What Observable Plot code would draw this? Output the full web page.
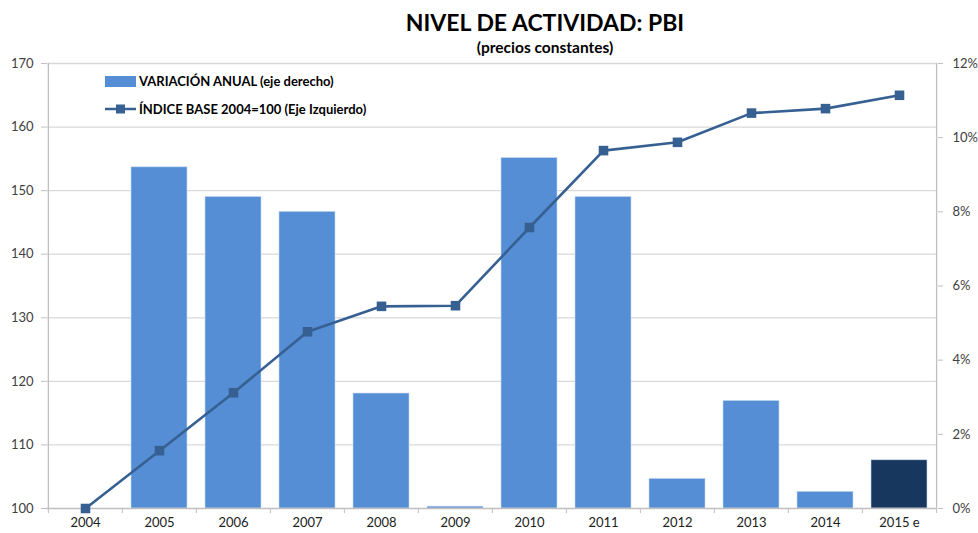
<!DOCTYPE html>
<html>
<head>
<meta charset="utf-8">
<script src="https://cdn.jsdelivr.net/npm/d3@7"></script>
<script src="https://cdn.jsdelivr.net/npm/@observablehq/plot@0.6"></script>
<style>
  html, body { margin: 0; padding: 0; background: #fff; }
  #wrap { position: relative; width: 978px; height: 533px; font-family: Lato, "Open Sans", sans-serif; }
  #title { position: absolute; left: 0; top: 8px; width: 978px; padding-left: 112px; box-sizing: border-box; text-align: center; font-weight: bold; font-size: 23px; color: #000; }
  #subtitle { position: absolute; left: 0; top: 38px; width: 978px; padding-left: 112px; box-sizing: border-box; text-align: center; font-weight: bold; font-size: 15.5px; color: #000; }
  #chart { position: absolute; left: 0; top: 0; }
  .leg { position: absolute; font-size: 13px; font-weight: bold; color: #000; white-space: nowrap; }
</style>
</head>
<body>
<div id="wrap">
  <div id="chart"></div>
  <div id="title">NIVEL DE ACTIVIDAD: PBI</div>
  <div id="subtitle">(precios constantes)</div>
  <svg style="position:absolute;left:0;top:0" width="978" height="533">
    <rect x="105" y="76" width="31" height="11" fill="#558ED5"></rect>
    <line x1="105" y1="109" x2="136" y2="109" stroke="#376092" stroke-width="2.5"></line>
    <rect x="116" y="104.5" width="9" height="9" fill="#376092"></rect>
  </svg>
  <div class="leg" style="left:139px;top:73px">VARIACIÓN ANUAL (eje derecho)</div>
  <div class="leg" style="left:139px;top:101px">ÍNDICE BASE 2004=100 (Eje Izquierdo)</div>
</div>
<script>
const years = ["2004","2005","2006","2007","2008","2009","2010","2011","2012","2013","2014","2015 e"];
const indexValues = [100, 109.1, 118.2, 127.8, 131.8, 131.9, 144.2, 156.3, 157.6, 162.2, 162.9, 165.0];
const growthPct = [null, 9.2, 8.4, 8.0, 3.1, 0.05, 9.45, 8.4, 0.8, 2.9, 0.45, 1.3];
const leftTicks = [100, 110, 120, 130, 140, 150, 160, 170];
const rightTicksPct = [0, 2, 4, 6, 8, 10, 12];

const L0 = 100, L1 = 170, R1 = 12;
const toLeft = p => L0 + p * (L1 - L0) / R1;

const barData = years.map((y, i) => ({year: y, v: growthPct[i], est: y.endsWith("e")}))
  .filter(d => d.v != null);
const lineData = years.map((y, i) => ({year: y, v: indexValues[i]}));

const bw = (978 - 46 - 41) / years.length;
const pad = 0.245;

const chart = Plot.plot({
  width: 978,
  height: 533,
  marginLeft: 46,
  marginRight: 41,
  marginTop: 63,
  marginBottom: 25,
  style: {fontFamily: "Lato, 'Open Sans', sans-serif", fontSize: "13px", color: "#404040", background: "transparent"},
  x: {type: "band", domain: years, paddingInner: pad, paddingOuter: pad / 2, align: 0.5, axis: null, label: null},
  y: {domain: [L0, L1], axis: null, label: null},
  marks: [
    Plot.ruleY(leftTicks.filter(t => t > L0), {stroke: "#d9d9d9", strokeWidth: 1.3}),
    Plot.barY(barData, {x: "year", y1: L0, y2: d => toLeft(d.v), fill: d => d.est ? "#17375E" : "#558ED5", stroke: "#c6d9f1", strokeWidth: 0.6}),
    Plot.ruleY([L0], {stroke: "#bfbfbf", strokeWidth: 1.3}),
    Plot.ruleX([years[0]], {dx: -bw / 2, y1: L0, y2: L1, stroke: "#bfbfbf", strokeWidth: 1.3}),
    Plot.ruleX([years[years.length - 1]], {dx: bw / 2, y1: L0, y2: L1, stroke: "#bfbfbf", strokeWidth: 1.3}),
    Plot.ruleX(years, {dx: -bw / 2, y1: L0, y2: L0 - 0.8, stroke: "#bfbfbf"}),
    Plot.ruleX([years[years.length - 1]], {dx: bw / 2, y1: L0, y2: L0 - 0.8, stroke: "#bfbfbf"}),
    Plot.axisY(leftTicks, {anchor: "left", label: null, tickSize: 5, tickPadding: 8, stroke: "#bfbfbf", fill: "#404040", fontSize: 13}),
    Plot.axisY(rightTicksPct.map(toLeft), {anchor: "right", label: null, tickSize: 5, tickPadding: 10, stroke: "#bfbfbf", fill: "#404040", fontSize: 13,
      tickFormat: d => Math.round((d - L0) * R1 / (L1 - L0)) + "%"}),
    Plot.axisX(years, {anchor: "bottom", label: null, tickSize: 0, tickPadding: 9, fill: "#222", fontSize: 13}),
    Plot.line(lineData, {x: "year", y: "v", stroke: "#376092", strokeWidth: 2.6}),
    Plot.dot(lineData, {x: "year", y: "v", symbol: "square", r: 5.4, fill: "#376092", stroke: "none"})
  ]
});
document.getElementById("chart").appendChild(chart);
</script>
</body>
</html>
